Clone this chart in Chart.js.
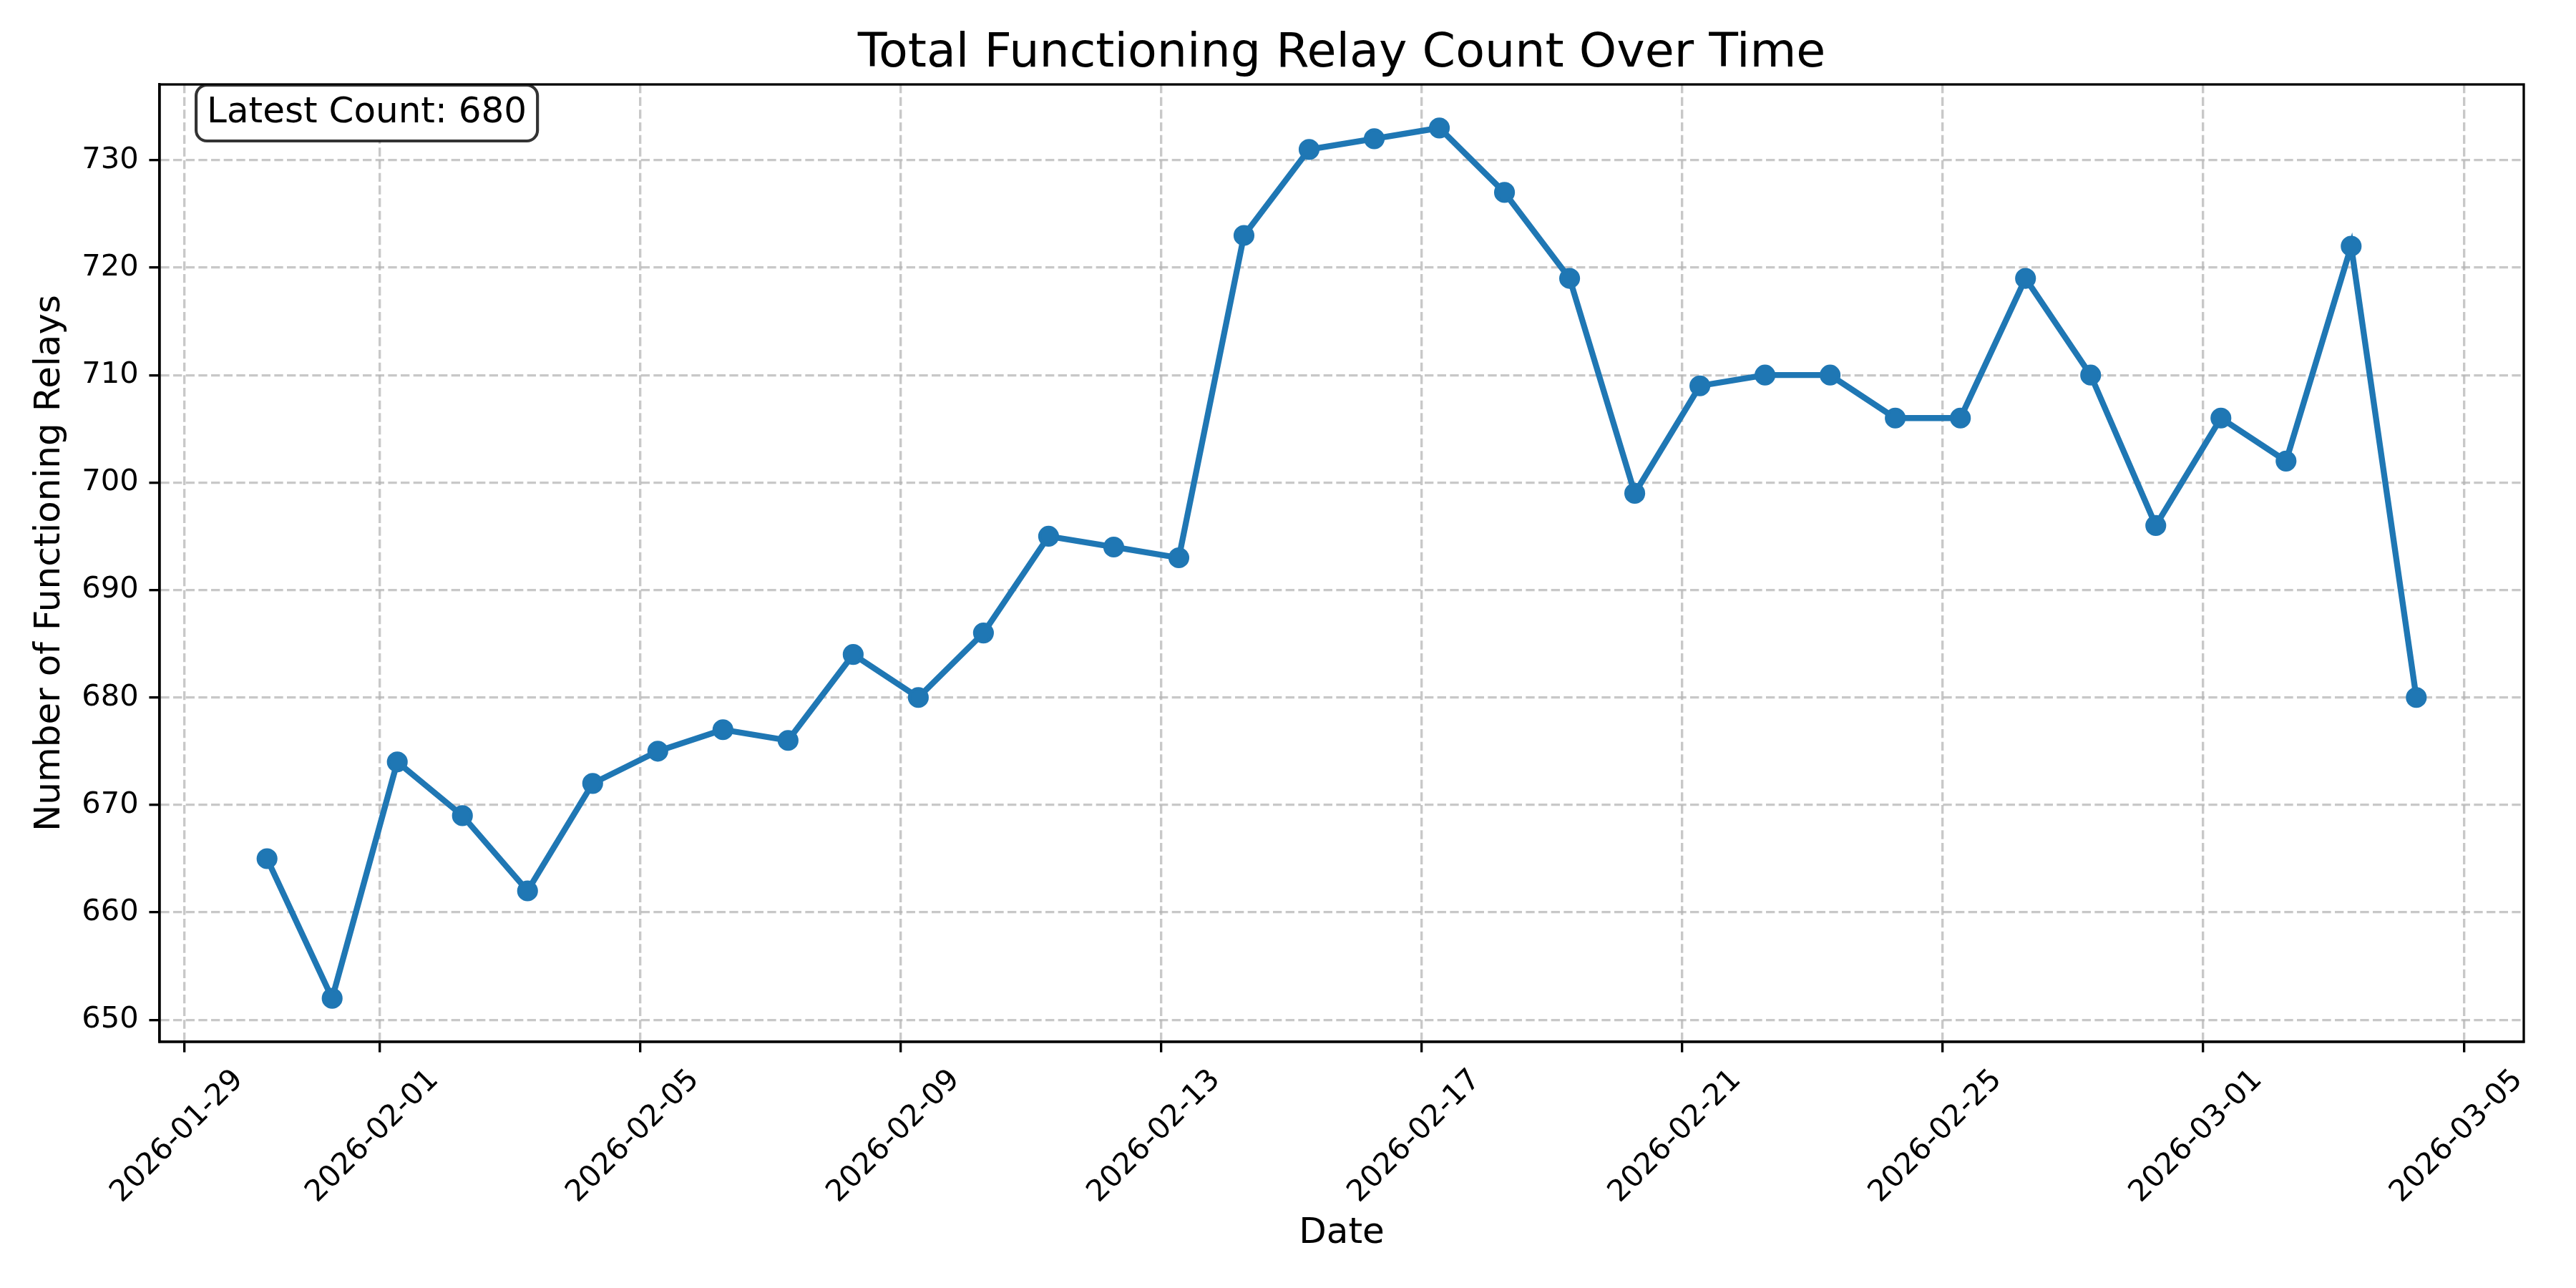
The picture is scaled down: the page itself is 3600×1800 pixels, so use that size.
<!DOCTYPE html>
<html>
<head>
<meta charset="utf-8">
<script src="https://cdn.jsdelivr.net/npm/chart.js@4.4.0/dist/chart.umd.min.js"></script>
<style>
  html, body { margin: 0; padding: 0; background: #fff; }
  #wrap { width: 3600px; height: 1800px; }
</style>
</head>
<body>
<div id="wrap"><canvas id="relayChart" width="3600" height="1800"></canvas></div>
<script>
// sample times (UTC) and counts
const sampleTimes = [
  '2026-01-30T06:30', '2026-01-31T06:30', '2026-02-01T06:30', '2026-02-02T06:30',
  '2026-02-03T06:30', '2026-02-04T06:30', '2026-02-05T06:30', '2026-02-06T06:30',
  '2026-02-07T06:30', '2026-02-08T06:30', '2026-02-09T06:30', '2026-02-10T06:30',
  '2026-02-11T06:30', '2026-02-12T06:30', '2026-02-13T06:30', '2026-02-14T06:30',
  '2026-02-15T06:30', '2026-02-16T06:30', '2026-02-17T06:30', '2026-02-18T06:30',
  '2026-02-19T06:30', '2026-02-20T06:30', '2026-02-21T06:30', '2026-02-22T06:30',
  '2026-02-23T06:30', '2026-02-24T06:30', '2026-02-25T06:30', '2026-02-26T06:30',
  '2026-02-27T06:30', '2026-02-28T06:30', '2026-03-01T06:30', '2026-03-02T06:30',
  '2026-03-03T06:30', '2026-03-04T06:30'
];
const relayCounts = [
  665, 652, 674, 669, 662, 672, 675, 677, 676, 684, 680, 686, 695, 694, 693, 723, 731,
  732, 733, 727, 719, 699, 709, 710, 710, 706, 706, 719, 710, 696, 706, 702, 722, 680
];
const xTickDates = [
  '2026-01-29', '2026-02-01', '2026-02-05', '2026-02-09', '2026-02-13',
  '2026-02-17', '2026-02-21', '2026-02-25', '2026-03-01', '2026-03-05'
];
const yTickValues = [650, 660, 670, 680, 690, 700, 710, 720, 730];

const chartTitle = 'Total Functioning Relay Count Over Time';
const xTitle = 'Date';
const yTitle = 'Number of Functioning Relays';

const FONT = "'DejaVu Sans', 'Liberation Sans', sans-serif";
const PT = 300 / 72; // figure was 300 dpi

const toMs = s => Date.parse(s + (s.length > 10 ? ':00Z' : 'T00:00:00Z'));
const points = sampleTimes.map((t, i) => ({ x: toMs(t), y: relayCounts[i] }));

// matplotlib style 5% margins
const xs = points.map(p => p.x);
const ys = points.map(p => p.y);
const xSpan = Math.max(...xs) - Math.min(...xs);
const ySpan = Math.max(...ys) - Math.min(...ys);
const xMin = Math.min(...xs) - 0.05 * xSpan;
const xMax = Math.max(...xs) + 0.05 * xSpan;
const yMin = Math.min(...ys) - 0.05 * ySpan;
const yMax = Math.max(...ys) + 0.05 * ySpan;

const latestCount = relayCounts[relayCounts.length - 1];

const gridColor = 'rgba(176,176,176,0.7)';
const gridDash = [3.7 * 0.8 * PT, 1.6 * 0.8 * PT];

const framePlugin = {
  id: 'frame',
  afterDraw(chart) {
    const { ctx, chartArea: a } = chart;
    ctx.save();
    // spines
    ctx.strokeStyle = '#000';
    ctx.lineWidth = 0.8 * PT;
    ctx.strokeRect(a.left, a.top, a.right - a.left, a.bottom - a.top);

    // title
    ctx.fillStyle = '#000';
    ctx.font = (16 * PT) + 'px ' + FONT;
    ctx.textAlign = 'center';
    ctx.textBaseline = 'alphabetic';
    ctx.fillText(chartTitle, (a.left + a.right) / 2, a.top - 6 * PT);

    // latest count box
    const label = 'Latest Count: ' + latestCount;
    ctx.font = (12 * PT) + 'px ' + FONT;
    ctx.textAlign = 'left';
    const tw = ctx.measureText(label).width;
    const pad = 0.3 * 12 * PT;
    const tx = a.left + 0.02 * (a.right - a.left);
    const bx = tx - pad;
    const by = a.top + 1;
    const bw = tw + 2 * pad;
    const bh = 78;
    ctx.beginPath();
    ctx.roundRect(bx, by, bw, bh, pad);
    ctx.fillStyle = '#fff';
    ctx.fill();
    ctx.strokeStyle = 'rgba(0,0,0,0.8)';
    ctx.lineWidth = 1 * PT;
    ctx.stroke();
    ctx.fillStyle = '#000';
    ctx.fillText(label, tx, a.top + 53);
    ctx.restore();
  }
};

const ctx = document.getElementById('relayChart').getContext('2d');
new Chart(ctx, {
  type: 'line',
  data: {
    datasets: [{
      label: 'Functioning relays',
      data: points,
      borderColor: '#1f77b4',
      backgroundColor: '#1f77b4',
      borderWidth: 2 * PT,
      pointRadius: 3 * PT,
      pointBorderWidth: 1 * PT,
      pointBorderColor: '#1f77b4',
      pointBackgroundColor: '#1f77b4',
      tension: 0,
      fill: false
    }]
  },
  options: {
    responsive: false,
    animation: false,
    devicePixelRatio: 1,
    layout: { padding: { top: 118, right: 73, bottom: 0, left: 0 } },
    plugins: {
      legend: { display: false },
      title: { display: false },
      tooltip: { enabled: false }
    },
    scales: {
      x: {
        type: 'linear',
        min: xMin,
        max: xMax,
        afterBuildTicks: scale => {
          scale.ticks = xTickDates.map(d => ({ value: toMs(d) }));
        },
        afterFit: scale => { scale.height = 1800 - 1456; },
        ticks: {
          autoSkip: false,
          maxRotation: 45,
          minRotation: 45,
          labelOffset: 76,
          padding: 3.5 * PT,
          color: '#000',
          font: { family: FONT, size: 10 * PT },
          callback: v => new Date(v).toISOString().slice(0, 10)
        },
        grid: {
          color: gridColor,
          lineWidth: 0.8 * PT,
          drawTicks: true,
          tickLength: 3.5 * PT,
          tickColor: '#000',
          tickWidth: 0.8 * PT,
          tickBorderDash: []
        },
        border: { display: true, color: '#000', width: 0.8 * PT, dash: gridDash },
        title: {
          display: true,
          text: xTitle,
          color: '#000',
          font: { family: FONT, size: 12 * PT },
          padding: { top: 0, bottom: 46 }
        }
      },
      y: {
        type: 'linear',
        min: yMin,
        max: yMax,
        afterBuildTicks: scale => {
          scale.ticks = yTickValues.map(v => ({ value: v }));
        },
        afterFit: scale => { scale.width = 223; },
        ticks: {
          autoSkip: false,
          padding: 3.5 * PT,
          color: '#000',
          font: { family: FONT, size: 10 * PT },
          callback: v => String(v)
        },
        grid: {
          color: gridColor,
          lineWidth: 0.8 * PT,
          drawTicks: true,
          tickLength: 3.5 * PT,
          tickColor: '#000',
          tickWidth: 0.8 * PT,
          tickBorderDash: []
        },
        border: { display: true, color: '#000', width: 0.8 * PT, dash: gridDash },
        title: {
          display: true,
          text: yTitle,
          color: '#000',
          font: { family: FONT, size: 12 * PT },
          padding: { top: 40, bottom: 0 }
        }
      }
    }
  },
  plugins: [framePlugin]
});
</script>
</body>
</html>
